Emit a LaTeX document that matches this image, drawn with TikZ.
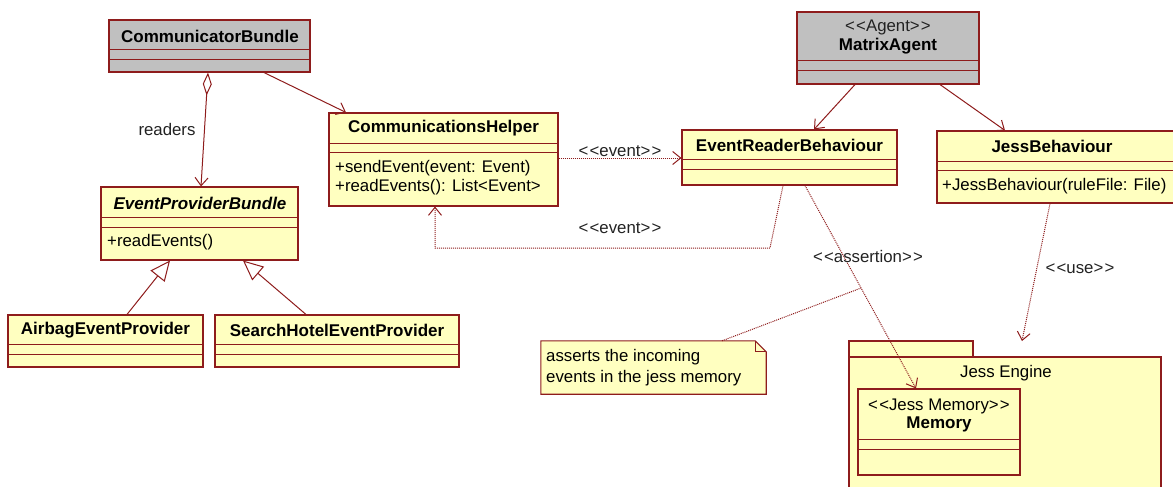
\documentclass[tikz,border=0pt]{standalone}
\usepackage{fontspec}
\setmainfont{Liberation Sans}
\usetikzlibrary{arrows.meta,fit,calc}
\definecolor{umlred}{HTML}{8E1C1C}
\definecolor{umlfill}{HTML}{FFFFC0}
\definecolor{umlgray}{HTML}{C0C0C0}
\definecolor{labelgray}{HTML}{222222}
\newcommand\stereo[1]{<\kern1.2pt<#1>\kern1.2pt>}
\tikzset{
  box/.style={draw=umlred, line width=1.1pt, inner sep=0pt},
  classbox/.style={box, fill=umlfill},
  agentbox/.style={box, fill=umlgray},
  sep/.style={draw=umlred, line width=1pt},
  cname/.style={font=\fontsize{17}{19}\selectfont\bfseries, inner sep=0pt},
  txt/.style={font=\fontsize{16.8}{19}\selectfont, inner sep=0pt, text=labelgray},
  member/.style={txt, anchor=west, text=black},
  vhead/.style={-{Straight Barb[length=8pt,width=13pt,line width=1pt]}},
  assoc/.style={draw=umlred, line width=1pt, vhead},
  aggr/.style={draw=umlred, line width=1pt,
    {Diamond[open,length=23pt,width=9pt,fill=white,line width=1pt]}-{Straight Barb[length=8pt,width=13pt,line width=1pt]}},
  gen/.style={draw=umlred, line width=1pt, -{Triangle[open,length=20pt,width=18pt,fill=white,line width=1pt]}},
  dep/.style={draw=umlred, line width=1pt, dash pattern=on 1pt off 1pt, vhead},
  link/.style={draw=umlred, line width=1pt, dash pattern=on 1pt off 1pt},
}
\begin{document}
\begin{tikzpicture}[x=1pt, y=-1pt]
\useasboundingbox (0,0) rectangle (1173,487);
\clip (0,0) rectangle (1173,487);

% ---- CommunicatorBundle
\node[agentbox, fit={(109,20)(310,72)}] (cb) {};
\draw[sep] (cb.west |- 0,50) -- (cb.east |- 0,50);
\draw[sep] (cb.west |- 0,60) -- (cb.east |- 0,60);
\node[cname] (cbN) at (210,36) {CommunicatorBundle};

% ---- CommunicationsHelper
\node[classbox, fit={(329,113)(558,206)}] (ch) {};
\draw[sep] (ch.west |- 0,143) -- (ch.east |- 0,143);
\draw[sep] (ch.west |- 0,152) -- (ch.east |- 0,152);
\node[cname] (chN) at (443.5,128) {CommunicationsHelper};
\node[member] (chM1) at (335,168) {+sendEvent(event: Event)};
\node[member] (chM2) at (335,187) {+readEvents(): List<Event>};

% ---- EventProviderBundle
\node[classbox, fit={(101,187)(298,260)}] (epb) {};
\draw[sep] (epb.west |- 0,217) -- (epb.east |- 0,217);
\draw[sep] (epb.west |- 0,227) -- (epb.east |- 0,227);
\node[cname, font=\fontsize{17}{19}\selectfont\bfseries\itshape] (epbN) at (200,203) {EventProviderBundle};
\node[member] (epbM1) at (107,242) {+readEvents()};

% ---- AirbagEventProvider
\node[classbox, fit={(8,315)(203,367)}] (air) {};
\draw[sep] (air.west |- 0,344) -- (air.east |- 0,344);
\draw[sep] (air.west |- 0,354) -- (air.east |- 0,354);
\node[cname] (airN) at (105.5,330) {AirbagEventProvider};

% ---- SearchHotelEventProvider
\node[classbox, fit={(215,315)(459,367)}] (sh) {};
\draw[sep] (sh.west |- 0,344) -- (sh.east |- 0,344);
\draw[sep] (sh.west |- 0,354) -- (sh.east |- 0,354);
\node[cname] (shN) at (337,330) {SearchHotelEventProvider};

% ---- MatrixAgent
\node[agentbox, fit={(797,12)(979,84)}] (ma) {};
\draw[sep] (ma.west |- 0,61) -- (ma.east |- 0,61);
\draw[sep] (ma.west |- 0,71) -- (ma.east |- 0,71);
\node[txt] (maS) at (888,27) {\stereo{Agent}};
\node[cname] (maN) at (888,46) {MatrixAgent};

% ---- EventReaderBehaviour
\node[classbox, fit={(682,130)(897,185)}] (erb) {};
\draw[sep] (erb.west |- 0,159) -- (erb.east |- 0,159);
\draw[sep] (erb.west |- 0,169) -- (erb.east |- 0,169);
\node[cname] (erbN) at (789.5,145) {EventReaderBehaviour};

% ---- JessBehaviour
\node[classbox, fit={(937,131)(1185,203)}] (jb) {};
\draw[sep] (jb.west |- 0,161) -- (jb.east |- 0,161);
\draw[sep] (jb.west |- 0,170) -- (jb.east |- 0,170);
\node[cname] (jbN) at (1052,146) {JessBehaviour};
\node[member] (jbM1) at (942,186) {+JessBehaviour(ruleFile: File)};

% ---- Jess Engine package
\node[classbox, fit={(849,341)(973,357)}] (pkgTab) {};
\node[classbox, fit={(849,357)(1161,500)}] (pkg) {};
\node[txt, text=black] (pkgN) at (1006,373) {Jess Engine};

% ---- Memory
\node[classbox, fit={(858,389)(1020,475)}] (mem) {};
\draw[sep] (mem.west |- 0,439) -- (mem.east |- 0,439);
\draw[sep] (mem.west |- 0,449) -- (mem.east |- 0,449);
\node[txt, text=black] (memS) at (939,406) {\stereo{Jess Memory}};
\node[cname] (memN) at (939,424) {Memory};

% ---- note
\node[inner sep=0pt, fit={(541,341)(766,394)}] (note) {};
\draw[box, fill=umlfill] (note.north west) -- ($(note.north east)+(-11,0)$)
  -- ($(note.north east)+(0,11)$) -- (note.south east) -- (note.south west) -- cycle;
\draw[sep] ($(note.north east)+(-11,0)$) |- ($(note.north east)+(0,11)$);
\node[member] (noteL1) at (546,357) {asserts the incoming};
\node[member] (noteL2) at (546,378) {events in the jess memory};

% ---- connectors
\draw[aggr] (cb.south -| 208,0) -- (epb.north -| 201,0);
\node[txt] (readers) at (167,129) {readers};
\draw[assoc] (cb.south -| 264,0) -- (ch.north -| 346,0);

\draw[gen] (air.north -| 127,0) -- (epb.south -| 170,0);
\draw[gen] (sh.north -| 306,0) -- (epb.south -| 243,0);

\draw[assoc] (ma.south -| 855,0) -- (erb.north -| 814,0);
\draw[assoc] (ma.south -| 940,0) -- (jb.north -| 1005,0);

\draw[dep] (ch.east |- 0,158) -- (erb.west |- 0,158);
\node[txt] (ev1) at (620,151) {\stereo{event}};

\coordinate (evBend) at (770,248);
\draw[dep] (erb.south -| 783,0) -- (evBend) -| (ch.south -| 435,0);
\node[txt] (ev2) at (620,228) {\stereo{event}};

\draw[dep] (erb.south -| 805,0) -- coordinate[pos=0.505] (asrt) (mem.north -| 916,0);
\node[txt] (asrtL) at (868,256) {\stereo{assertion}};
\draw[link] (note.north -| 722,0) -- (asrt);

\coordinate (useEnd) at (1022,341);
\draw[dep] (jb.south -| 1050,0) -- (useEnd);
\node[txt] (useL) at (1080,269) {\stereo{use}};
\end{tikzpicture}
\end{document}
